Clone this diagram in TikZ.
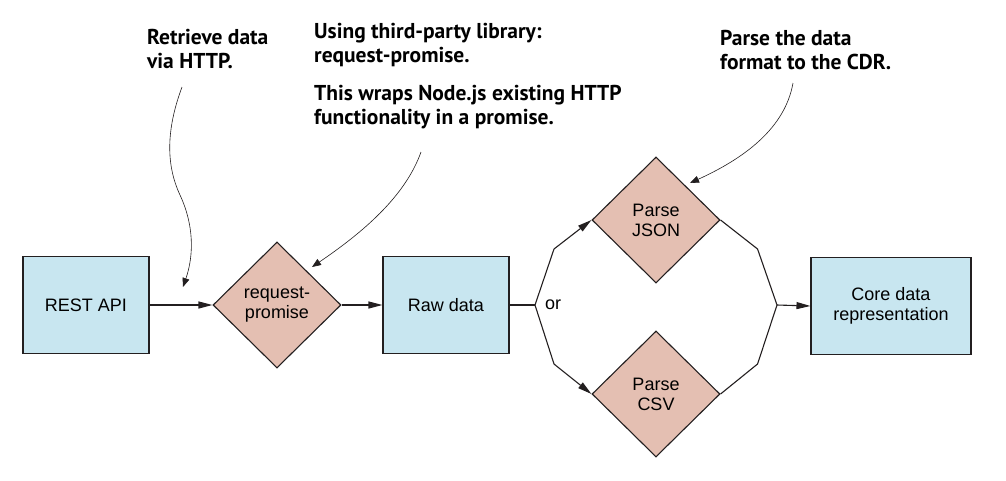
\documentclass[tikz,border=0pt]{standalone}
\usepackage{fontspec}
\setmainfont{Liberation Sans}
\newfontfamily\notefont{PT Sans}
\usetikzlibrary{shapes.geometric,arrows.meta}

\definecolor{boxblue}{RGB}{200,230,240}
\definecolor{stepred}{RGB}{228,191,178}
\definecolor{inkgray}{RGB}{35,31,32}

\begin{document}
\begin{tikzpicture}[x=1pt, y=-1pt, font = \fontsize{18}{20}\selectfont,
        box/.style = {draw=inkgray, line width=1.1pt, fill=boxblue, minimum width=126pt, minimum height=97pt, align=center},
        stepdia/.style = {draw=inkgray, line width=1.1pt, fill=stepred, diamond, minimum width=128pt, minimum height=126pt, inner sep=0pt, align=center},
        flow/.style = {draw=inkgray, line width=1.1pt, -{Triangle[length=14pt,width=7pt]}},
        line/.style = {draw=inkgray, line width=1.1pt},
        note/.style = {draw=inkgray, line width=0.6pt, -{Triangle[length=9pt,width=7pt]}},
        notetext/.style = {anchor=north west, inner sep=0pt, align=left, font=\notefont\bfseries\fontsize{21.5}{24}\selectfont}]
        \useasboundingbox (0,0) rectangle (1006,480);

        \node[box] (rest) at (86,305) {REST API};
        \node[stepdia] (req) at (277,305) {request-\\promise};
        \node[box] (raw) at (446,305) {Raw data};
        \node[stepdia] (json) at (656,220) {Parse\\JSON};
        \node[stepdia] (csv) at (656,394) {Parse\\CSV};
        \node[box, minimum width=160pt] (core) at (891,306) {Core data\\representation};

        \coordinate (split) at (535,305);
        \coordinate (join) at (777,305);
        \node[anchor=west, inner sep=0pt] (or) at (545,305) {or};

        \draw[flow] (rest) -- (req);
        \draw[flow] (req) -- (raw);
        \draw[line] (raw.east) -- (split);
        \draw[flow] (split) -- ++(19,-56) -- (json.west);
        \draw[flow] (split) -- ++(19,59) -- (csv.west);
        \draw[line] (json.east) -- ++(37,29) -- (join);
        \draw[line] (csv.east) -- ++(37,-30) -- (join);
        \draw[flow] (join) -- (core.west);

        \node[notetext] (retrieve) at (147,29) {Retrieve data\\via HTTP.};
        \node[notetext] (using) at (314,23) {Using third-party library:\\request-promise.};
        \node[notetext] (wraps) at (314,85) {This wraps Node.js existing HTTP\\functionality in a promise.};
        \node[notetext] (parse) at (720,30) {Parse the data\\format to the CDR.};

        \coordinate (retrieve end) at (182,87);
        \coordinate (retrieve tip) at (183,287);
        \coordinate (wraps end) at (421,152);
        \coordinate (wraps tip) at (312,267);
        \coordinate (parse end) at (793,83);
        \coordinate (parse tip) at (690,183);

        \draw[note] (retrieve end) .. controls (166,130) and (166,165) .. (180,195) .. controls (194,225) and (194,255) .. (retrieve tip);
        \draw[note] (wraps end) .. controls (405,197) and (362,233) .. (wraps tip);
        \draw[note] (parse end) .. controls (785,128) and (745,158) .. (parse tip);
\end{tikzpicture}
\end{document}
